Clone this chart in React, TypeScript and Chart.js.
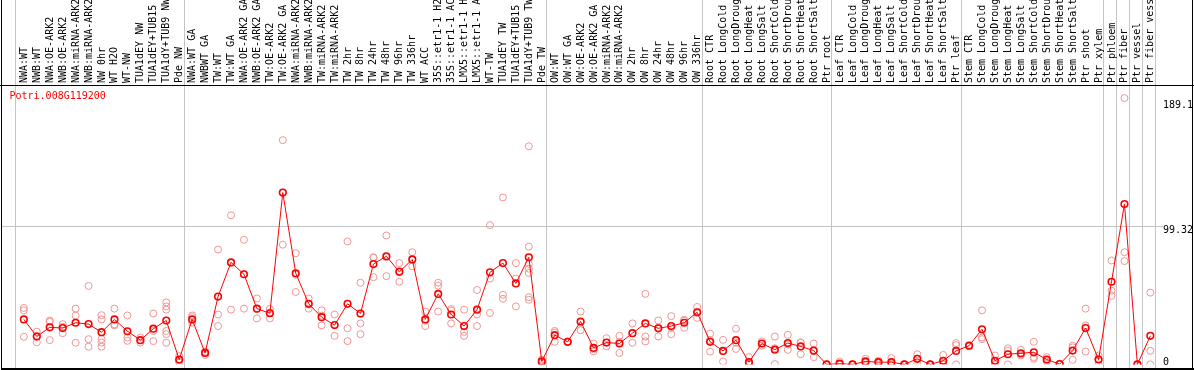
import React, { useEffect, useRef } from 'react';
import { Chart, registerables } from 'chart.js';

Chart.register(...registerables);

const geneId = 'Potri.008G119200';

const categories = [
  'NWA:WT', 'NWB:WT', 'NWA:OE-ARK2', 'NWB:OE-ARK2', 'NWA:miRNA-ARK2', 'NWB:miRNA-ARK2',
  'NW 0hr', 'WT H2O', 'WT-NW', 'TUA1dEY NW', 'TUA1dEY+TUB15 NW', 'TUA1dY+TUB9 NW', 'Pde NW',
  'NWA:WT GA', 'NWBWT GA', 'TW:WT', 'TW:WT GA', 'NWA:OE-ARK2 GA', 'NWB:OE-ARK2 GA',
  'TW:OE-ARK2', 'TW:OE-ARK2 GA', 'NWA:miRNA-ARK2 GA', 'NWB:miRNA-ARK2 GA', 'TW:miRNA-ARK2',
  'TW:miRNA-ARK2 GA', 'TW 2hr', 'TW 8hr', 'TW 24hr', 'TW 48hr', 'TW 96hr', 'TW 336hr', 'WT ACC',
  '35S::etr1-1 H2O', '35S::etr1-1 ACC', 'LMX5::etr1-1 H2O', 'LMX5::etr1-1 ACC', 'WT-TW',
  'TUA1dEY TW', 'TUA1dEY+TUB15 TW', 'TUA1dY+TUB9 TW', 'Pde TW',
  'OW:WT', 'OW:WT GA', 'OW:OE-ARK2', 'OW:OE-ARK2 GA', 'OW:miRNA-ARK2', 'OW:miRNA-ARK2 GA',
  'OW 2hr', 'OW 8hr', 'OW 24hr', 'OW 48hr', 'OW 96hr', 'OW 336hr',
  'Root CTR', 'Root LongCold', 'Root LongDrought', 'Root LongHeat', 'Root LongSalt',
  'Root ShortCold', 'Root ShortDrought', 'Root ShortHeat', 'Root ShortSalt', 'Ptr root',
  'Leaf CTR', 'Leaf LongCold', 'Leaf LongDrought', 'Leaf LongHeat', 'Leaf LongSalt',
  'Leaf ShortCold', 'Leaf ShortDrought', 'Leaf ShortHeat', 'Leaf ShortSalt', 'Ptr leaf',
  'Stem CTR', 'Stem LongCold', 'Stem LongDrought', 'Stem LongHeat', 'Stem LongSalt',
  'Stem ShortCold', 'Stem ShortDrought', 'Stem ShortHeat', 'Stem ShortSalt', 'Ptr shoot',
  'Ptr xylem', 'Ptr phloem', 'Ptr fiber', 'Ptr vessel', 'Ptr fiber vessel',
];

const meanValues = [
  32.3, 20, 26.6, 26.1, 29.9, 28.9, 23.1, 32.3, 23.8, 17.4, 25.6, 31.5, 3.5,
  32.3, 8.2, 48.7, 73.2, 64.7, 40, 36.7, 123.3, 65.4, 43.5, 33.9, 28.2, 43.5, 36.5, 72, 77.6,
  66.4, 75.3, 32.3, 50.6, 35.8, 27.5, 39.3, 66.1, 72.7, 58.1, 76.9, 2.1,
  21, 16.2, 30.8, 11.8, 15.7, 15, 22.4, 29.4, 25.9, 27.5, 29.9, 37.4,
  16.2, 9.7, 17.4, 1.6, 15, 10.6, 15.3, 12.9, 9.9, 0,
  0.5, 0, 2.1, 1.6, 1.6, 0, 4, 0, 2.6, 9.7,
  13.4, 25.2, 2.6, 7.3, 8, 8.7, 3.5, 0.2, 9.9, 26.1, 3.5,
  59.3, 115.1, 0, 20.5,
];

const replicateValues = [
  [40.5, 38.8, 19.8], [23.5, 15.8, 20.5], [31.5, 30.6, 17.4], [28.9, 22.4, 27],
  [40, 35.1, 15.5], [56.3, 18.1, 12.7], [35.3, 32.3, 18.1, 15.7, 12.7], [40, 28.7, 28],
  [35.1, 19.3, 16.9], [19.3, 17.4, 15.7], [36.5, 24, 16.7], [44.5, 41.6, 39.3, 24, 21.7, 15.5],
  [6, 3, 1.5],
  [35.1, 33.9, 29.9], [9.2, 6.8, 8.5], [82.4, 35.8, 27.5], [107, 39.3, 73], [89.4, 40, 64.7],
  [47.3, 33, 40], [39.8, 33, 37], [160.9, 85.9, 123.1], [79.8, 52, 64.4], [47.3, 40, 43],
  [38.8, 28, 35], [35.8, 20.5, 28.3], [88.2, 25.9, 16.7], [58.6, 29.4, 21.7], [76.9, 76.5, 62.6],
  [92.5, 63.3, 77], [72.7, 59.3, 67], [80.5, 70.4, 75], [37.9, 27.5, 31.5], [58.6, 56.5, 37.9],
  [39.7, 38.6, 29.4], [39.3, 23.3, 20.5], [53.4, 35.8, 27.5], [100, 61.6, 36.9],
  [119.8, 49.9, 47.1], [72.7, 61.6, 41.6], [156.5, 84.5, 72.2, 68.7, 65.6, 48.2, 46.4],
  [3.5, 1.5, 1],
  [24, 16.2, 22.8], [16, 16, 16.5], [37.9, 24.5, 30], [15, 9.4, 11], [18.8, 12.9, 15.5],
  [20.5, 8.2, 16.3], [29.4, 15.5, 22.3], [50.6, 20, 16.5], [31.5, 20, 26.2], [34.6, 21.7, 26.3],
  [31.3, 26.3, 32], [41.2, 33.4, 37.6],
  [22.1, 9.2, 17.4], [17.6, 2.1, 9.4], [25.6, 11.1, 15.6], [5.2, 0, 0], [16.5, 13.4, 15],
  [20, 0.2, 11.6], [21.2, 10.4, 14.3], [15.7, 15.7, 7.3], [15, 5.2, 9.5], [0, 0, 0],
  [2.1, 0, 0], [0, 0, 0], [4, 1.5, 1], [2.6, 1.5, 0.7], [4.5, 0.3, 0], [0, 0, 0],
  [7.3, 4, 0.7], [0, 0, 0], [6.8, 1, 0], [15.3, 13.8, 0],
  [13, 14, 13.2], [38.8, 19.3, 18.1], [6.4, 1.4, 0], [11.5, 9.9, 0], [10.4, 6.4, 7.2],
  [16.2, 5.2, 4], [5.2, 3.2, 2.1], [0.5, 0, 0], [13.4, 12.2, 3.3], [40, 28, 9.2], [6.4, 4, 0],
  [74.6, 52.9, 49.2], [191.1, 80.5, 74.1], [0, 0, 0], [51.5, 9.7, 0],
];

// category indices where a group separator line is drawn (before that category)
const groupBreaks = [0, 13, 41, 53, 63, 73, 84, 85, 86, 87, 88];
const yTickValues = [189.1, 99.32, 0];
const yTickLabels = ['189.1', '99.32', '0'];
const yGridValues = [99.32];

const FONT = '10px "DejaVu Sans Mono", monospace';
const X_MIN = -18.3 / 13;
const X_MAX = X_MIN + 1162 / 13;
const Y_MAX = 283 / (140.7 / 99.32);

const framePlugin = {
  id: 'efpFrame',
  beforeDraw(chart: any) {
    const ctx = chart.ctx;
    ctx.save();
    ctx.fillStyle = '#ffffff';
    ctx.fillRect(0, 0, chart.width, chart.height);
    ctx.restore();
  },
  beforeDatasetsDraw(chart: any) {
    const ctx = chart.ctx;
    const xs = chart.scales.x;
    const ys = chart.scales.y;
    ctx.save();
    ctx.fillStyle = '#c4c4c4';
    for (const b of groupBreaks) {
      const x = Math.round(xs.getPixelForValue(b - 0.66));
      ctx.fillRect(x, 0, 1, 368);
    }
    for (const g of yGridValues) {
      const y = Math.round(ys.getPixelForValue(g));
      ctx.fillRect(1, y, 1162, 1);
    }
    ctx.restore();
  },
  afterDraw(chart: any) {
    const ctx = chart.ctx;
    const xs = chart.scales.x;
    const ys = chart.scales.y;
    ctx.save();
    ctx.fillStyle = '#000000';
    ctx.fillRect(1, 0, 1, 370);
    ctx.fillRect(0, 85, 1194, 1);
    ctx.fillRect(1, 368, 1193, 2);
    ctx.fillRect(1192, 0, 1, 370);

    ctx.font = FONT;
    ctx.textBaseline = 'alphabetic';
    ctx.textAlign = 'left';
    categories.forEach((label, i) => {
      const x = xs.getPixelForValue(i) + 3;
      ctx.save();
      ctx.translate(x, 83);
      ctx.rotate(-Math.PI / 2);
      ctx.fillText(label, 0, 0);
      ctx.restore();
    });

    yTickValues.forEach((v, k) => {
      const y = Math.min(ys.getPixelForValue(v), 358);
      ctx.fillText(yTickLabels[k], 1163, y + 7);
    });

    ctx.fillStyle = '#ff0000';
    ctx.fillText(geneId, 9.5, 99);
    ctx.restore();
  },
};

export default function App() {
  const ref = useRef<HTMLCanvasElement>(null);
  useEffect(() => {
    const canvas = ref.current!;
    const meanData = meanValues.map((v, i) => ({ x: i, y: v }));
    const repData = replicateValues.flatMap((arr, i) => arr.map((v) => ({ x: i, y: v })));
    const chart = new Chart(canvas, {
      type: 'line',
      data: {
        datasets: [
          {
            label: 'mean',
            data: meanData,
            borderColor: '#ff0000',
            borderWidth: 1,
            pointRadius: 3.3,
            pointBorderWidth: 1.6,
            pointBorderColor: '#ff0000',
            pointBackgroundColor: 'rgba(255,255,255,0)',
            tension: 0,
            clip: 0,
            order: 0,
          } as any,
          {
            label: 'replicates',
            data: repData,
            showLine: false,
            pointRadius: 3.5,
            pointBorderWidth: 1,
            pointBorderColor: 'rgb(240,150,150)',
            pointBackgroundColor: 'rgba(0,0,0,0)',
            clip: 0,
            order: 1,
          } as any,
        ],
      },
      options: {
        animation: false,
        responsive: false,
        events: [],
        layout: { padding: { left: 1, right: 31, top: 86, bottom: 1 } },
        scales: {
          x: { type: 'linear', display: false, min: X_MIN, max: X_MAX },
          y: { type: 'linear', display: false, min: 0, max: Y_MAX },
        },
        plugins: { legend: { display: false }, tooltip: { enabled: false } },
      },
      plugins: [framePlugin],
    });
    return () => chart.destroy();
  }, []);
  return (
    <div style={{ position: 'absolute', left: 0, top: 0, width: 1194, height: 370, background: '#fff' }}>
      <canvas ref={ref} width={1194} height={370} style={{ display: 'block' }} />
    </div>
  );
}
